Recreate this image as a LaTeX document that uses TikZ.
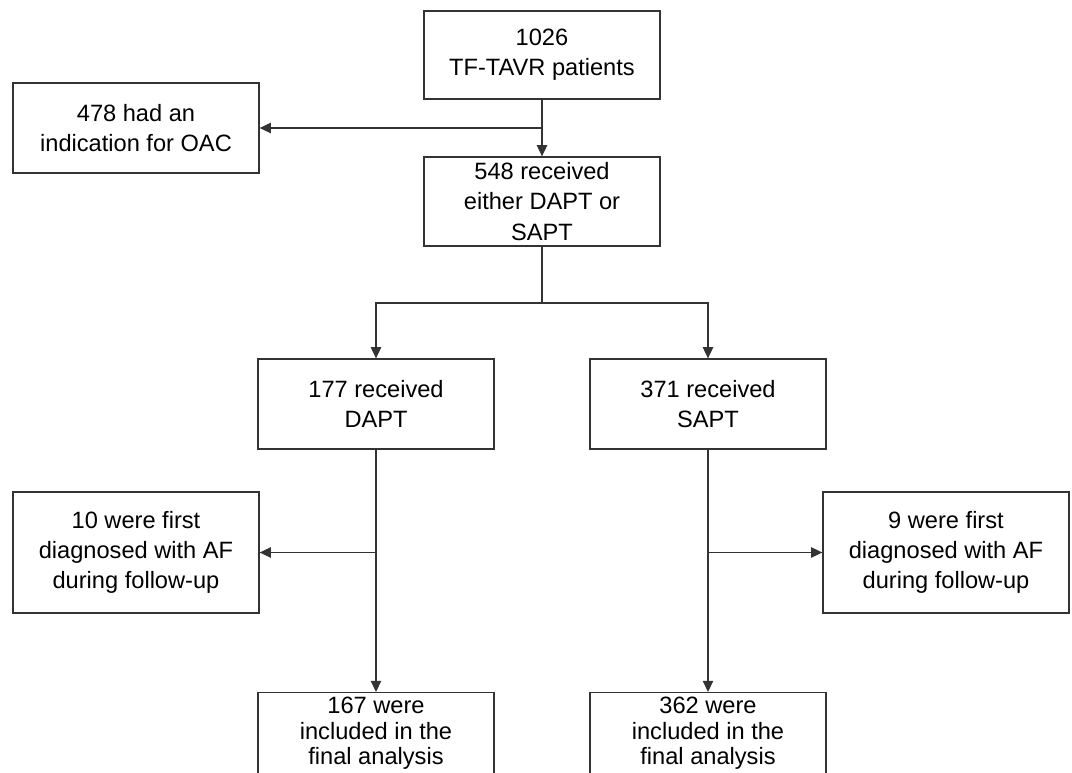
\documentclass[tikz,border=0pt]{standalone}
\usepackage{fontspec}
\setmainfont{Liberation Sans}
\usetikzlibrary{arrows.meta}

\begin{document}
\begin{tikzpicture}[x=0.025cm, y=-0.025cm,
  box/.style={draw=black!80, line width=0.9pt, align=center, inner sep=1pt,
    minimum width=5.9cm, font=\fontsize{16.8pt}{21.5pt}\selectfont},
  sidebox/.style={box, minimum width=6.15cm},
  endbox/.style={box, anchor=north, inner ysep=3pt, font=\fontsize{16.8pt}{18.3pt}\selectfont},
  arr/.style={draw=black!80, line width=0.9pt, -{Triangle[length=0.28cm, width=0.26cm]}}]
 \useasboundingbox (0,0) rectangle (1072,773);
 % main column
 \node[box, minimum height=2.2cm] (top) at (542,55) {1026\\TF-TAVR patients};
 \node[sidebox, minimum height=2.25cm] (oac) at (136,128) {478 had an\\indication for OAC};
 \node[box, minimum height=2.225cm] (either) at (542,201.5) {548 received\\either DAPT or\\SAPT};
 % two arms
 \node[box, minimum height=2.25cm] (dapt) at (376,404) {177 received\\DAPT};
 \node[box, minimum height=2.25cm] (sapt) at (708,404) {371 received\\SAPT};
 \node[sidebox, minimum height=3.025cm] (afdapt) at (136,552.5) {10 were first\\diagnosed with AF\\during follow-up};
 \node[sidebox, minimum height=3.025cm] (afsapt) at (946,552.5) {9 were first\\diagnosed with AF\\during follow-up};
 \node[endbox, minimum height=2.5cm, text depth=0.9cm] (findapt) at (376,692) {167 were\\included in the\\final analysis};
 \node[endbox, minimum height=2.5cm, text depth=0.9cm] (finsapt) at (708,692) {362 were\\included in the\\final analysis};
 \coordinate (split) at (542,303);

 \path[arr]
  (top) -- (either);
 \path[arr] (top.south |- oac.east) -- (oac.east);
 \draw[black!80, line width=0.9pt] (either.south) -- (split);
 \path[arr] (split) -| (dapt.north);
 \path[arr] (split) -| (sapt.north);
 \path[arr] (dapt) -- (findapt);
 \path[arr] (dapt.south |- afdapt.east) -- (afdapt.east);
 \path[arr] (sapt) -- (finsapt);
 \path[arr] (sapt.south |- afsapt.west) -- (afsapt.west);
\end{tikzpicture}
\end{document}
